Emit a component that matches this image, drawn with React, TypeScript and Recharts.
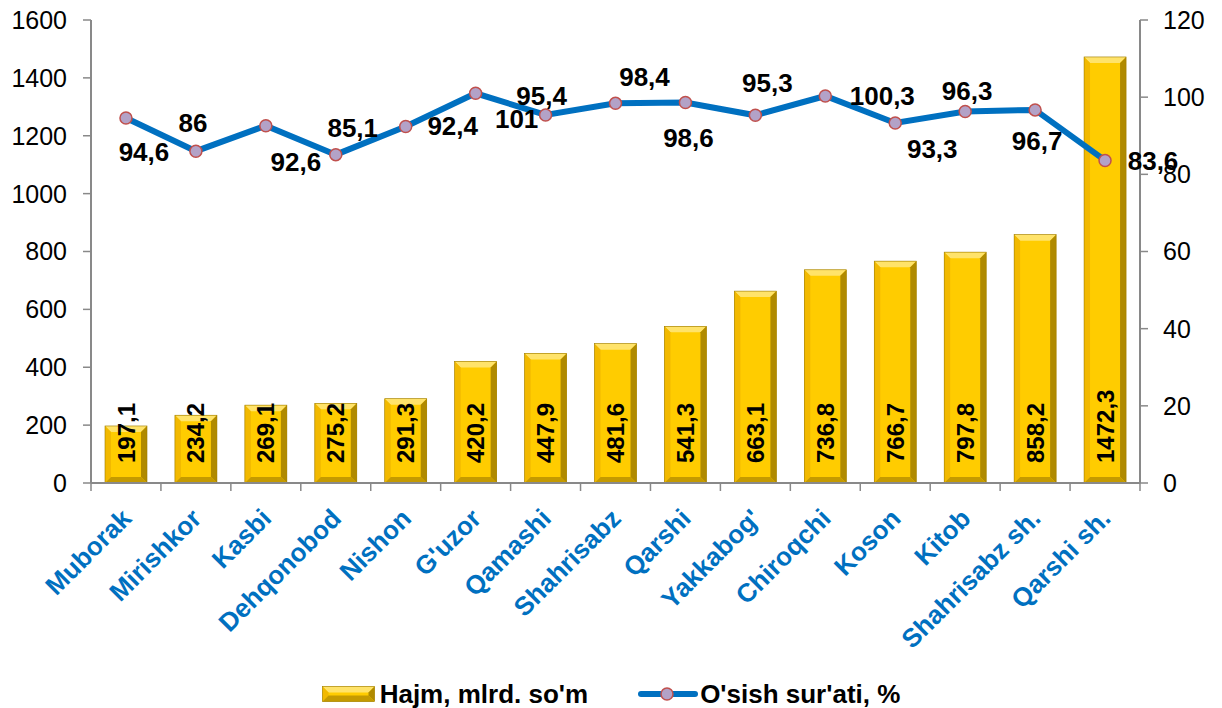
import React from 'react';
import {
  ComposedChart, Bar, Line, XAxis, YAxis, Legend, LabelList
} from 'recharts';

const districts = [
  'Muborak', 'Mirishkor', 'Kasbi', 'Dehqonobod', 'Nishon', "G'uzor", 'Qamashi',
  'Shahrisabz', 'Qarshi', "Yakkabog'", 'Chiroqchi', 'Koson', 'Kitob',
  'Shahrisabz sh.', 'Qarshi sh.'
];
const volume = [197.1, 234.2, 269.1, 275.2, 291.3, 420.2, 447.9, 481.6, 541.3, 663.1, 736.8, 766.7, 797.8, 858.2, 1472.3];
const growth = [94.6, 86, 92.6, 85.1, 92.4, 101, 95.4, 98.4, 98.6, 95.3, 100.3, 93.3, 96.3, 96.7, 83.6];
const leftTicks = [0, 200, 400, 600, 800, 1000, 1200, 1400, 1600];
const rightTicks = [0, 20, 40, 60, 80, 100, 120];

const data = districts.map((d, i) => ({ district: d, volume: volume[i], growth: growth[i] }));

const W = 1222;
const H = 708;
const LEFT_W = 91;
const RIGHT_W = 82;
const HALF_BAND = (W - LEFT_W - RIGHT_W) / districts.length / 2;
const FONT = '"Liberation Sans", Arial, sans-serif';
const AXIS = '#898989';
const BLUE = '#0070C0';

// where each growth label sits relative to its point (Excel placed them by hand)
const growthLabelShift: [number, number][] = [
  [18, 34], [-3, -28], [30, 36], [17, -27], [47, 0], [41, 26], [-4, -19], [29, -26],
  [3, 35], [12, -32], [57, 0], [37, 26], [2, -20], [2, 31], [48, 1]
];

const fmt = (v: number) => String(v).replace('.', ',');

const GoldBar = (props: any) => {
  const { x, y, width: w, height: h } = props;
  if (!h || h <= 0) return null;
  const b = Math.min(6, h / 2);
  return (
    <g>
      <rect x={x} y={y} width={w} height={h} fill="#FFCC00" />
      <polygon points={`${x},${y} ${x + w},${y} ${x + w - b},${y + b} ${x + b},${y + b}`} fill="#FFE36A" />
      <polygon points={`${x},${y} ${x + b},${y + b} ${x + b},${y + h - b} ${x},${y + h}`} fill="#F2B900" />
      <polygon points={`${x + w},${y} ${x + w},${y + h} ${x + w - b},${y + h - b} ${x + w - b},${y + b}`} fill="#B08A00" />
      <polygon points={`${x},${y + h} ${x + w},${y + h} ${x + w - b},${y + h - b} ${x + b},${y + h - b}`} fill="#C49A00" />
      <rect x={x} y={y} width={w} height={h} fill="none" stroke="#9C7A00" strokeWidth={0.6} />
    </g>
  );
};

const BarValue = (props: any) => {
  const { x, y, width, height, value } = props;
  const cx = x + width / 2;
  const by = y + height - 20;
  return (
    <text
      x={cx} y={by} transform={`rotate(-90 ${cx} ${by})`}
      textAnchor="start" dominantBaseline="central"
      fontFamily={FONT} fontWeight="bold" fontSize={24} fill="#000"
    >
      {fmt(value)}
    </text>
  );
};

const GrowthLabel = (props: any) => {
  const { x, y, index, value } = props;
  const [dx, dy] = growthLabelShift[index] || [0, -25];
  return (
    <text
      x={x + dx} y={y + dy} textAnchor="middle" dominantBaseline="central"
      fontFamily={FONT} fontWeight="bold" fontSize={26} fill="#000"
    >
      {fmt(value)}
    </text>
  );
};

const DistrictTick = (props: any) => {
  const { x, y, payload, index } = props;
  const ax = x + 7;
  const ay = y + 37;
  return (
    <g>
      <line x1={x - HALF_BAND} y1={y} x2={x - HALF_BAND} y2={y + 8} stroke={AXIS} strokeWidth={1.5} />
      {index === districts.length - 1 && (
        <line x1={x + HALF_BAND} y1={y} x2={x + HALF_BAND} y2={y + 8} stroke={AXIS} strokeWidth={1.5} />
      )}
      <text
        x={ax} y={ay} transform={`rotate(-45 ${ax} ${ay})`} textAnchor="end"
        fontFamily={FONT} fontWeight="bold" fontSize={26} fill={BLUE}
      >
        {payload.value}
      </text>
    </g>
  );
};

const LegendBox = () => (
  <div style={{
    height: 50, boxSizing: 'border-box', paddingTop: 22, display: 'flex',
    justifyContent: 'center', alignItems: 'center', fontFamily: FONT,
    fontWeight: 'bold', fontSize: 26, color: '#000', lineHeight: '28px'
  }}>
    <svg width={53} height={16} style={{ marginRight: 5 }}>
      <GoldBar x={0.5} y={0.5} width={52} height={15} />
    </svg>
    <span style={{ marginRight: 50 }}>Hajm, mlrd. so'm</span>
    <svg width={60} height={16} style={{ marginRight: 2 }}>
      <line x1={3} y1={8} x2={57} y2={8} stroke={BLUE} strokeWidth={6} strokeLinecap="round" />
      <circle cx={29} cy={8} r={6} fill="#B3A2C7" stroke="#C0504D" strokeWidth={1.5} />
    </svg>
    <span>O'sish sur'ati, %</span>
  </div>
);

export default function App() {
  return (
    <div style={{ position: 'absolute', left: 0, top: 0, width: W, height: H, background: '#fff' }}>
      <ComposedChart width={W} height={H} data={data} margin={{ top: 20, right: 0, left: 0, bottom: 0 }}>
        <XAxis
          dataKey="district" interval={0} height={175} tickSize={0} tickMargin={0}
          tickLine={false} axisLine={{ stroke: AXIS, strokeWidth: 2 }} tick={<DistrictTick />}
        />
        <YAxis
          yAxisId="left" width={LEFT_W} domain={[0, 1600]} ticks={leftTicks} interval={0}
          tickSize={8} tickMargin={16} axisLine={{ stroke: AXIS, strokeWidth: 2 }}
          tickLine={{ stroke: AXIS, strokeWidth: 1.5 }}
          tick={{ fontFamily: FONT, fontSize: 25, fill: '#000' }}
        />
        <YAxis
          yAxisId="right" orientation="right" width={RIGHT_W} domain={[0, 120]} ticks={rightTicks} interval={0}
          tickSize={8} tickMargin={15} axisLine={{ stroke: AXIS, strokeWidth: 2 }}
          tickLine={{ stroke: AXIS, strokeWidth: 1.5 }}
          tick={{ fontFamily: FONT, fontSize: 25, fill: '#000' }}
        />
        <Legend verticalAlign="bottom" content={<LegendBox />} />
        <Bar yAxisId="left" dataKey="volume" name="Hajm, mlrd. so'm" barSize={42} shape={<GoldBar />} isAnimationActive={false}>
          <LabelList dataKey="volume" content={<BarValue />} />
        </Bar>
        <Line
          yAxisId="right" type="linear" dataKey="growth" name="O'sish sur'ati, %"
          stroke={BLUE} strokeWidth={6}
          dot={{ r: 6, fill: '#B3A2C7', stroke: '#C0504D', strokeWidth: 1.5 }}
          activeDot={false} isAnimationActive={false}
        >
          <LabelList dataKey="growth" content={<GrowthLabel />} />
        </Line>
      </ComposedChart>
    </div>
  );
}
